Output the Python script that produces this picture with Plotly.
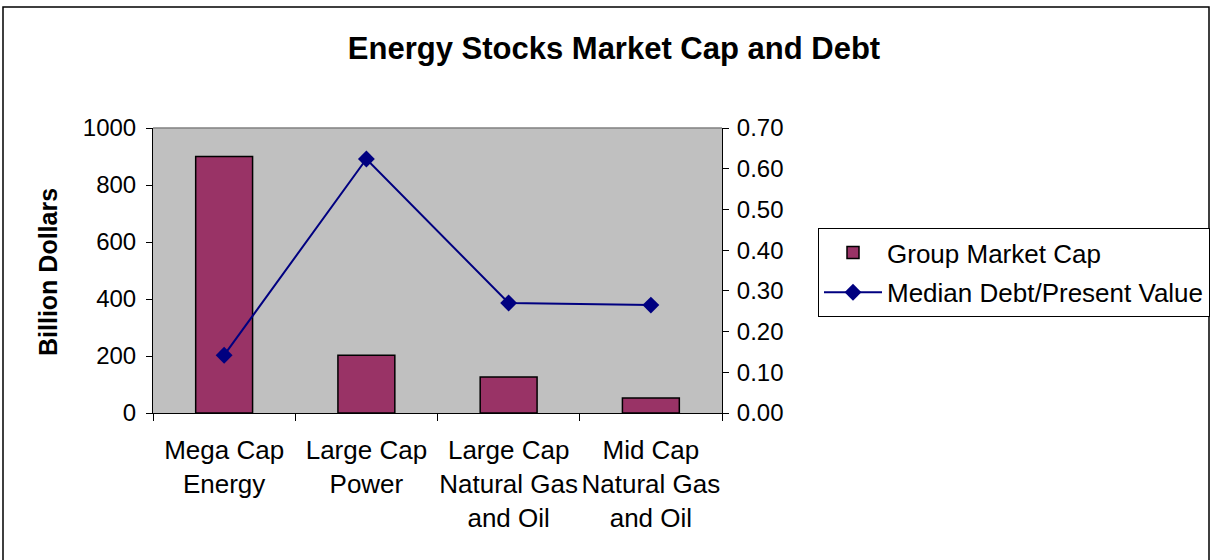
import plotly.graph_objects as go

categories = ["Mega Cap<br>Energy", "Large Cap<br>Power", "Large Cap<br>Natural Gas<br>and Oil", "Mid Cap<br>Natural Gas<br>and Oil"]
market_cap = [900, 203, 126, 53]
debt_pv = [0.142, 0.624, 0.270, 0.265]
left_ticks = [0, 200, 400, 600, 800, 1000]
right_ticks = [0.0, 0.1, 0.2, 0.3, 0.4, 0.5, 0.6, 0.7]

W, H = 1212, 560
L, R, T, B = 153, 722, 128, 413  # plot area in pixels

def px_x(p):
    return (p - L) / (R - L)

def px_y(p):
    return (B - p) / (B - T)

FONT = "Liberation Sans, Arial, sans-serif"

fig = go.Figure()
fig.add_trace(go.Bar(
    x=categories, y=market_cap, name="Group Market Cap",
    marker=dict(color="#993366", line=dict(color="black", width=1.5)),
    width=0.4, yaxis="y", legendgroup="a",
))
fig.add_trace(go.Scatter(
    x=categories, y=debt_pv, name="Median Debt/Present Value",
    mode="lines+markers", yaxis="y2", legendgroup="b",
    line=dict(color="#000080", width=2),
    marker=dict(symbol="diamond", size=13, color="#000080"),
))

fig.update_layout(
    width=W, height=H,
    margin=dict(l=L, r=W - R, t=T, b=H - B, autoexpand=False),
    paper_bgcolor="white", plot_bgcolor="#C0C0C0",
    font=dict(family=FONT, size=24, color="black"),
    title=dict(text="<b>Energy Stocks Market Cap and Debt</b>", x=614 / W, xref="container",
               xanchor="center", y=1 - 48 / H, yref="container", yanchor="middle",
               font=dict(size=31, family=FONT, color="black")),
    showlegend=True,
    legend=dict(x=px_x(818), y=px_y(228), xanchor="left", yanchor="top",
                bordercolor="black", borderwidth=1, bgcolor="white",
                font=dict(size=26, family=FONT), itemwidth=58,
                traceorder="grouped", tracegroupgap=3),
    bargap=0.6,
    xaxis=dict(type="category", showline=True, linecolor="black", linewidth=1,
               ticks="outside", tickson="boundaries", ticklen=7, tickcolor="black",
               showgrid=False, tickfont=dict(size=26), zeroline=False, tickangle=0,
               ticklabelstandoff=14),
    yaxis=dict(range=[0, 1000], tickvals=left_ticks, showline=True, linecolor="black",
               linewidth=1, ticks="outside", ticklen=6, tickcolor="black",
               showgrid=False, zeroline=False, tickfont=dict(size=24),
               ticklabelstandoff=5),
    yaxis2=dict(range=[0, 0.7], tickvals=right_ticks, tickformat=".2f", overlaying="y",
                side="right", showline=True, linecolor="black", linewidth=1,
                ticks="outside", ticklen=6, tickcolor="black", showgrid=False,
                zeroline=False, tickfont=dict(size=24), ticklabelstandoff=3),
    annotations=[dict(text="<b>Billion Dollars</b>", x=px_x(48), y=px_y(272),
                      xref="paper", yref="paper", textangle=-90, showarrow=False,
                      xanchor="center", yanchor="middle",
                      font=dict(size=25, family=FONT, color="black"))],
    shapes=[
        dict(type="line", xref="paper", yref="paper", x0=0, x1=1, y0=1, y1=1,
             line=dict(color="#808080", width=1.5)),
        dict(type="rect", xref="paper", yref="paper", x0=px_x(3), x1=px_x(1209),
             y0=px_y(575), y1=px_y(7), line=dict(color="black", width=1.5),
             fillcolor="rgba(0,0,0,0)", layer="below"),
    ],
)

fig.write_html("out.html", config={"displayModeBar": False},
               post_script="document.body.style.margin='0';document.body.style.overflow='hidden';")
